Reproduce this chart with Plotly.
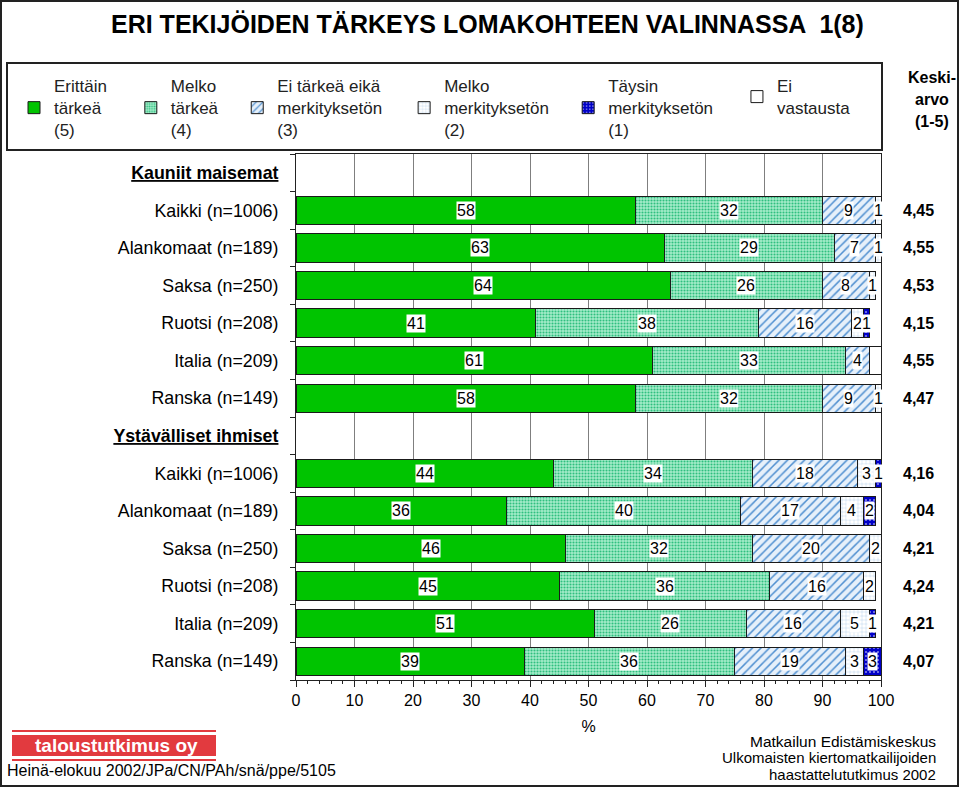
import plotly.graph_objects as go

# ---------------- data ----------------
row_labels = [
    "Kauniit maisemat",
    "Kaikki (n=1006)", "Alankomaat (n=189)", "Saksa (n=250)",
    "Ruotsi (n=208)", "Italia (n=209)", "Ranska (n=149)",
    "Ystävälliset ihmiset",
    "Kaikki (n=1006)", "Alankomaat (n=189)", "Saksa (n=250)",
    "Ruotsi (n=208)", "Italia (n=209)", "Ranska (n=149)",
]
header_rows = [0, 7]

series_names = [
    "Erittäin<br>tärkeä<br>(5)",
    "Melko<br>tärkeä<br>(4)",
    "Ei tärkeä eikä<br>merkityksetön<br>(3)",
    "Melko<br>merkityksetön<br>(2)",
    "Täysin<br>merkityksetön<br>(1)",
    "Ei<br>vastausta",
]

# None = header row (no bar)
erittain_tarkea = [None, 58, 63, 64, 41, 61, 58, None, 44, 36, 46, 45, 51, 39]
melko_tarkea = [None, 32, 29, 26, 38, 33, 32, None, 34, 40, 32, 36, 26, 36]
ei_tarkea_eika = [None, 9, 7, 8, 16, 4, 9, None, 18, 17, 20, 16, 16, 19]
melko_merkitykseton = [None, 1, 1, 1, 2, 0, 1, None, 3, 4, 2, 2, 5, 3]
taysin_merkitykseton = [None, 0, 0, 0, 1, 0, 0, None, 1, 2, 0, 0, 1, 3]
ei_vastausta = [None, 0, 0, 0, 0, 2, 0, None, 0, 0, 0, 0, 0, 0]

keskiarvo = [None, "4,45", "4,55", "4,53", "4,15", "4,55", "4,47",
             None, "4,16", "4,04", "4,21", "4,24", "4,21", "4,07"]

x_ticks = [0, 10, 20, 30, 40, 50, 60, 70, 80, 90, 100]

series_values = [erittain_tarkea, melko_tarkea, ei_tarkea_eika,
                 melko_merkitykseton, taysin_merkitykseton, ei_vastausta]
labelled = [True, True, True, True, True, False]

# ---------------- styles ----------------
FONT = "Liberation Sans, Arial, sans-serif"
NARROW = "Liberation Sans Narrow, Arial Narrow, Liberation Sans, sans-serif"

styles = [
    dict(color="#00C400", pattern=dict(shape="")),
    dict(color="#7FE3B5", pattern=dict(shape=".", fgcolor="#2FBF7F", bgcolor="#A6EDCB",
                                       size=3, solidity=0.4, fillmode="replace")),
    dict(color="#B9D5EF", pattern=dict(shape="/", fgcolor="#4F8FD0", bgcolor="#E6F0FA",
                                       size=6, solidity=0.25, fillmode="replace")),
    dict(color="#E8F0FA", pattern=dict(shape="+", fgcolor="#7DAEDD", bgcolor="#FFFFFF",
                                       size=4, solidity=0.12, fillmode="replace")),
    dict(color="#0000C8", pattern=dict(shape=".", fgcolor="#FFFFFF", bgcolor="#0000C8",
                                       size=4, solidity=0.12, fillmode="replace")),
    dict(color="#FFFFFF", pattern=dict(shape="")),
]
legend_pad = [4, 3, 4, 3, 4, 0]

rows = list(range(len(row_labels)))

fig = go.Figure()
for name, vals, st, pad in zip(series_names, series_values, styles, legend_pad):
    lines = name.split("<br>")
    longest = max(range(len(lines)), key=lambda i: len(lines[i]))
    lines[longest] = lines[longest] + "\u00a0" * pad
    fig.add_trace(go.Bar(
        name="<br>".join(lines),
        x=vals, y=rows, orientation="h", width=0.75,
        marker=dict(color=st["color"], pattern=st["pattern"],
                    line=dict(color="#1A1A1A", width=1)),
        hoverinfo="skip",
    ))

# segment value labels (white boxed text centered in each segment)
annotations = []
for r in rows:
    if r in header_rows:
        continue
    start = 0
    for vals, lab in zip(series_values, labelled):
        v = vals[r]
        if v and lab:
            annotations.append(dict(
                x=start + v / 2, y=r, xref="x", yref="y", text=str(v),
                xanchor="center", yanchor="middle",
                showarrow=False, bgcolor="white", borderpad=0,
                font=dict(family=FONT, size=16, color="black")))
        start += v or 0

W, H = 960, 788
L, R, T, B = 296, 79, 154, 108
PW, PH = W - L - R, H - T - B


def px(xp):
    return (xp - L) / PW


def py(yp):
    return (H - B - yp) / PH


# mean values on the right
for r, m in zip(rows, keskiarvo):
    if m:
        annotations.append(dict(
            x=px(918), y=r, xref="paper", yref="y", text=f"<b>{m}</b>",
            xanchor="center", yanchor="middle",
            showarrow=False, font=dict(family=FONT, size=16, color="black")))


def txt(x, y, text, size, color="black", xanchor="center", family=FONT):
    return dict(x=px(x), y=py(y), xref="paper", yref="paper", text=text,
                xanchor=xanchor, yanchor="middle", showarrow=False,
                font=dict(family=family, size=size, color=color))


annotations += [
    txt(487, 24, "<b>ERI TEKIJÖIDEN TÄRKEYS LOMAKOHTEEN VALINNASSA  1(8)</b>", 25),
    txt(932, 77, "<b>Keski-</b>", 16),
    txt(932, 100, "<b>arvo</b>", 16),
    txt(932, 122, "<b>(1-5)</b>", 16),
    txt(116, 745, "<b>taloustutkimus oy</b>", 19, color="white"),
    txt(5, 770, "Heinä-elokuu 2002/JPa/CN/PAh/snä/ppe/5105", 16, xanchor="left"),
    txt(938, 741, "Matkailun Edistämiskeskus", 15.5, xanchor="right"),
    txt(938, 757, "Ulkomaisten kiertomatkailijoiden", 15, xanchor="right"),
    txt(938, 774, "haastattelututkimus 2002", 15, xanchor="right"),
]

shapes = [
    # outer frame
    dict(type="rect", xref="paper", yref="paper", x0=px(1), x1=px(958), y0=py(786), y1=py(1),
         line=dict(color="#222222", width=2)),
    # legend box
    dict(type="rect", xref="paper", yref="paper", x0=px(7), x1=px(882), y0=py(150), y1=py(63),
         line=dict(color="#222222", width=2)),
    # logo
    dict(type="rect", xref="paper", yref="paper", x0=px(12), x1=px(216), y0=py(756), y1=py(735),
         fillcolor="#E23A3F", line=dict(width=0), layer="below"),
    dict(type="line", xref="paper", yref="paper", x0=px(12), x1=px(216), y0=py(731), y1=py(731),
         line=dict(color="#E23A3F", width=2)),
    dict(type="line", xref="paper", yref="paper", x0=px(12), x1=px(216), y0=py(760), y1=py(760),
         line=dict(color="#E23A3F", width=2)),
]

ticktext = []
for i, t in enumerate(row_labels):
    if i in header_rows:
        ticktext.append(f"<span style='text-decoration:underline'><b>{t}</b></span>")
    else:
        ticktext.append(t)

fig.update_layout(
    width=W, height=H,
    margin=dict(l=L, r=R, t=T, b=B),
    paper_bgcolor="white", plot_bgcolor="white",
    barmode="stack", bargap=0.25,
    font=dict(family=FONT, size=16, color="black"),
    showlegend=True,
    legend=dict(orientation="h", x=px(14), y=py(68), xanchor="left", yanchor="top",
                font=dict(family=FONT, size=17, color="#222222"), traceorder="normal",
                bgcolor="rgba(0,0,0,0)", valign="middle"),
    annotations=annotations,
    shapes=shapes,
    xaxis=dict(range=[0, 100], tickvals=x_ticks, showgrid=True, gridcolor="#7F7F7F",
               gridwidth=1, showline=True, linecolor="#222222", linewidth=1, mirror=True,
               ticks="outside", ticklen=6, tickcolor="#222222", zeroline=False,
               tickfont=dict(family=FONT, size=16),
               minor=dict(dtick=2, ticks="outside", ticklen=3, tickcolor="#222222", showgrid=False),
               title=dict(text="%", font=dict(family=FONT, size=16), standoff=12)),
    yaxis=dict(range=[13.5, -0.5], tickvals=rows, ticktext=ticktext, showgrid=False,
               showline=True, linecolor="#222222", linewidth=1, mirror=True,
               ticks="", zeroline=False, ticklabelstandoff=13,
               tickfont=dict(family=FONT, size=17.8),
               minor=dict(tickvals=[r + 0.5 for r in [-1] + rows], ticks="outside",
                          ticklen=5, tickcolor="#222222", showgrid=False)),
)

fig.write_html("out.html", config={"displayModeBar": False},
               post_script="document.body.style.margin='0';document.body.style.overflow='hidden';")
